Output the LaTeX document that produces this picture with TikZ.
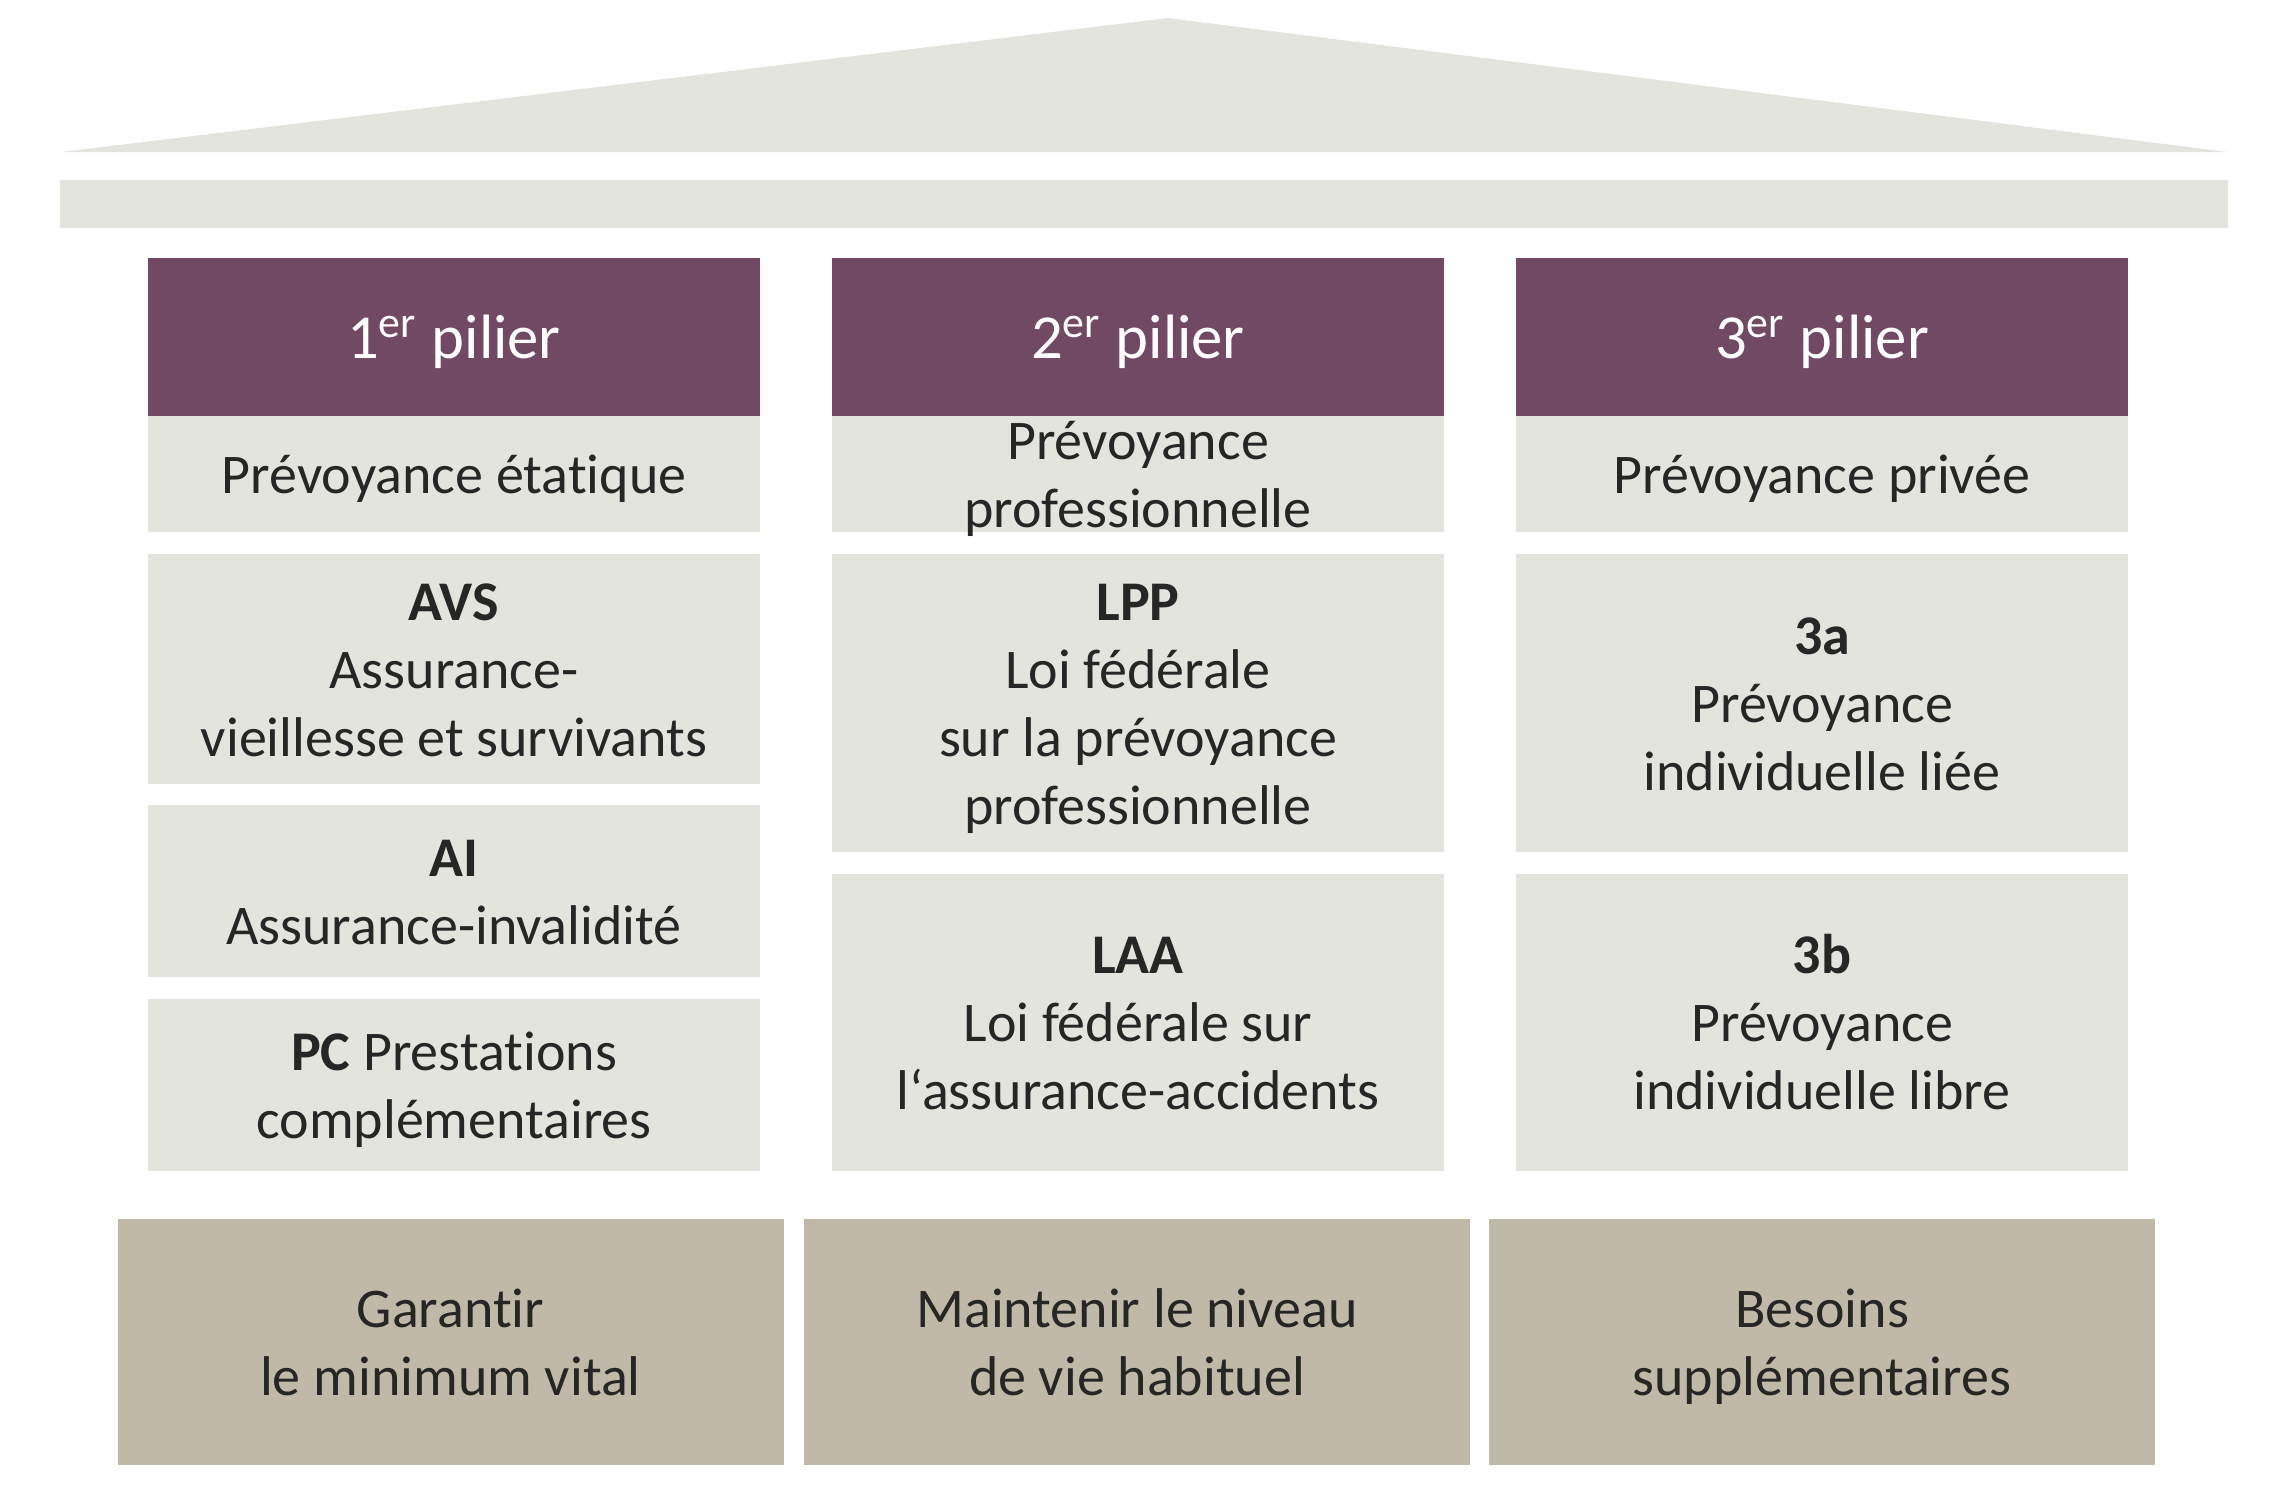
\documentclass[tikz,border=0pt]{standalone}
\usepackage{fontspec}
\setmainfont{Carlito}[Ligatures=NoCommon]
\definecolor{pilierviolet}{HTML}{724963}
\definecolor{piliergris}{HTML}{E4E4DF}
\definecolor{pilierbeige}{HTML}{C1B9A7}
\definecolor{texte}{HTML}{262626}
% hauteur et profondeur des lignes comme dans le modele
\newcommand{\hautligne}{\rule{0pt}{0.952em}}
\newcommand{\basligne}{\rule[-0.269em]{0pt}{0pt}}

\begin{document}
\begin{tikzpicture}[x=0.3pt, y=-0.3pt,
    box/.style={rectangle, fill=piliergris, inner sep=0pt, minimum width=183.6pt, text=texte, align=center,
      font=\fontsize{16.8pt}{20.4pt}\selectfont},
    header/.style={box, fill=pilierviolet, text=white, minimum height=47.4pt,
      font=\fontsize{18.8pt}{23pt}\selectfont},
    sub/.style={box, minimum height=34.8pt},
    base/.style={box, fill=pilierbeige, minimum width=199.8pt, minimum height=73.8pt}]
    \useasboundingbox (0,0) rectangle (2286,1506);
    % toit et poutre
    \fill[piliergris] (61,152) -- (1168,18) -- (2228,152) -- cycle;
    \fill[piliergris] (60,180) rectangle (2228,228);
    % titres des piliers
    \node[header] (h1) at (454, 337) {\hautligne 1\textsuperscript{er} pilier\basligne};
    \node[header] (h2) at (1138, 337) {\hautligne 2\textsuperscript{er} pilier\basligne};
    \node[header] (h3) at (1822, 337) {\hautligne 3\textsuperscript{er} pilier\basligne};
    \node[sub] (s1) at (454, 474) {\hautligne Prévoyance étatique\basligne};
    \node[sub] (s2) at (1138, 474) {};
    \node[box, fill=none] (s2t) at (s2) {\hautligne Prévoyance\\professionnelle\basligne};
    \node[sub] (s3) at (1822, 474) {\hautligne Prévoyance privée\basligne};
    % 1er pilier
    \node[box, minimum height=69pt] (avs) at (454, 669) {\hautligne\textbf{AVS}\\Assurance-\\vieillesse et survivants\basligne};
    \node[box, minimum height=51.6pt] (ai) at (454, 891) {\hautligne\textbf{AI}\\Assurance-invalidité\basligne};
    \node[box, minimum height=51.6pt] (pc) at (454, 1085) {\hautligne\textbf{PC} Prestations\\complémentaires\basligne};
    % 2e pilier
    \node[box, minimum height=89.4pt] (lpp) at (1138, 703) {\hautligne\textbf{LPP}\\Loi fédérale\\sur la prévoyance\\professionnelle\basligne};
    \node[box, minimum height=89.1pt] (laa) at (1138, 1022.5) {\hautligne\textbf{LAA}\\Loi fédérale sur\\l‘assurance-accidents\basligne};
    % 3e pilier
    \node[box, minimum height=89.4pt] (tra) at (1822, 703) {\hautligne\textbf{3a}\\Prévoyance\\individuelle liée\basligne};
    \node[box, minimum height=89.1pt] (trb) at (1822, 1022.5) {\hautligne\textbf{3b}\\Prévoyance\\individuelle libre\basligne};
    % socle
    \node[base] (g1) at (450.5, 1342) {\hautligne Garantir\\le minimum vital\basligne};
    \node[base] (g2) at (1137, 1342) {\hautligne Maintenir le niveau\\de vie habituel\basligne};
    \node[base] (g3) at (1822, 1342) {\hautligne Besoins\\supplémentaires\basligne};
\end{tikzpicture}
\end{document}
